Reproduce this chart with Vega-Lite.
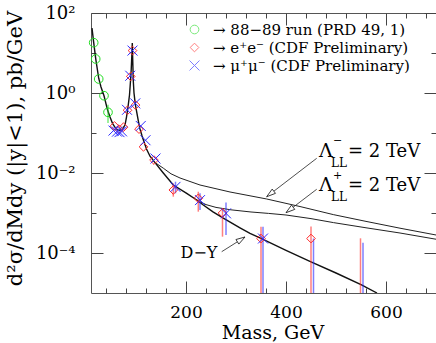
{
  "$schema": "https://vega.github.io/schema/vega-lite/v6.json",
  "width": 345,
  "height": 280,
  "autosize": {"type": "none"},
  "padding": {"left": 91, "top": 13, "right": 0, "bottom": 50},
  "config": {
    "font": "DejaVu Serif",
    "view": {"stroke": "#555", "strokeWidth": 1},
    "axis": {"domain": false, "grid": false, "ticks": true, "tickColor": "#444", "tickWidth": 1, "labelFont": "DejaVu Serif", "titleFont": "DejaVu Serif", "titleFontWeight": "normal", "labelColor": "#000", "titleColor": "#000", "labelFontSize": 17, "titleFontSize": 19},
    "legend": {"labelFont": "DejaVu Serif", "labelFontSize": 15, "labelOffset": 11, "labelLimit": 400, "rowPadding": 2, "symbolSize": 75, "symbolStrokeWidth": 1, "padding": 0}
  },
  "resolve": {"axis": {"x": "independent", "y": "independent"}},
  "datasets": {
    "curves": [
      {"curve": "D-Y", "mass": 12, "value": 41.7},
      {"curve": "D-Y", "mass": 15.4, "value": 18.2},
      {"curve": "D-Y", "mass": 19.4, "value": 7.24},
      {"curve": "D-Y", "mass": 25.4, "value": 2.34},
      {"curve": "D-Y", "mass": 30, "value": 1.41},
      {"curve": "D-Y", "mass": 36, "value": 0.851},
      {"curve": "D-Y", "mass": 43, "value": 0.38},
      {"curve": "D-Y", "mass": 48, "value": 0.251},
      {"curve": "D-Y", "mass": 53, "value": 0.174},
      {"curve": "D-Y", "mass": 58, "value": 0.138},
      {"curve": "D-Y", "mass": 63, "value": 0.12},
      {"curve": "D-Y", "mass": 68, "value": 0.117},
      {"curve": "D-Y", "mass": 73, "value": 0.126},
      {"curve": "D-Y", "mass": 78, "value": 0.158},
      {"curve": "D-Y", "mass": 81, "value": 0.251},
      {"curve": "D-Y", "mass": 84, "value": 0.447},
      {"curve": "D-Y", "mass": 87, "value": 0.891},
      {"curve": "D-Y", "mass": 89, "value": 2.0},
      {"curve": "D-Y", "mass": 90.5, "value": 3.98},
      {"curve": "D-Y", "mass": 91.7, "value": 8.91},
      {"curve": "D-Y", "mass": 92.6, "value": 17.8},
      {"curve": "D-Y", "mass": 93.5, "value": 6.31},
      {"curve": "D-Y", "mass": 94.6, "value": 2.0},
      {"curve": "D-Y", "mass": 96, "value": 1.0},
      {"curve": "D-Y", "mass": 98.5, "value": 0.537},
      {"curve": "D-Y", "mass": 101, "value": 0.355},
      {"curve": "D-Y", "mass": 105, "value": 0.191},
      {"curve": "D-Y", "mass": 108, "value": 0.126},
      {"curve": "D-Y", "mass": 112, "value": 0.0851},
      {"curve": "D-Y", "mass": 116, "value": 0.0603},
      {"curve": "D-Y", "mass": 121, "value": 0.0398},
      {"curve": "D-Y", "mass": 128, "value": 0.0263},
      {"curve": "D-Y", "mass": 138, "value": 0.0182},
      {"curve": "D-Y", "mass": 154.6, "value": 0.01},
      {"curve": "D-Y", "mass": 174.6, "value": 0.00501},
      {"curve": "D-Y", "mass": 201.4, "value": 0.00309},
      {"curve": "D-Y", "mass": 221.4, "value": 0.00211},
      {"curve": "D-Y", "mass": 234.6, "value": 0.00158},
      {"curve": "D-Y", "mass": 254, "value": 0.00107},
      {"curve": "D-Y", "mass": 274.6, "value": 0.000741},
      {"curve": "D-Y", "mass": 308, "value": 0.000427},
      {"curve": "D-Y", "mass": 328, "value": 0.000309},
      {"curve": "D-Y", "mass": 350, "value": 0.000232},
      {"curve": "D-Y", "mass": 400, "value": 0.000117},
      {"curve": "D-Y", "mass": 450, "value": 0.0000603},
      {"curve": "D-Y", "mass": 500, "value": 0.0000316},
      {"curve": "D-Y", "mass": 550, "value": 0.0000162},
      {"curve": "D-Y", "mass": 582, "value": 0.00001},
      {"curve": "LL+", "mass": 221.4, "value": 0.00211},
      {"curve": "LL+", "mass": 240, "value": 0.00162},
      {"curve": "LL+", "mass": 260, "value": 0.00138},
      {"curve": "LL+", "mass": 290, "value": 0.0012},
      {"curve": "LL+", "mass": 330, "value": 0.00106},
      {"curve": "LL+", "mass": 365, "value": 0.000977},
      {"curve": "LL+", "mass": 400, "value": 0.000891},
      {"curve": "LL+", "mass": 450, "value": 0.000724},
      {"curve": "LL+", "mass": 495, "value": 0.000575},
      {"curve": "LL+", "mass": 560, "value": 0.000427},
      {"curve": "LL+", "mass": 628, "value": 0.000316},
      {"curve": "LL+", "mass": 700, "value": 0.000221},
      {"curve": "LL-", "mass": 138, "value": 0.0182},
      {"curve": "LL-", "mass": 154.6, "value": 0.0132},
      {"curve": "LL-", "mass": 170, "value": 0.00955},
      {"curve": "LL-", "mass": 188, "value": 0.0075},
      {"curve": "LL-", "mass": 228, "value": 0.00501},
      {"curve": "LL-", "mass": 288, "value": 0.00335},
      {"curve": "LL-", "mass": 361.4, "value": 0.00224},
      {"curve": "LL-", "mass": 428, "value": 0.00145},
      {"curve": "LL-", "mass": 494.6, "value": 0.000912},
      {"curve": "LL-", "mass": 560, "value": 0.000617},
      {"curve": "LL-", "mass": 628, "value": 0.000417},
      {"curve": "LL-", "mass": 700, "value": 0.000282}
    ],
    "points": [
      {"series": "run", "mass": 15.4, "value": 18.1, "lo": null, "hi": null},
      {"series": "run", "mass": 19.4, "value": 7.08, "lo": null, "hi": null},
      {"series": "run", "mass": 25.4, "value": 2.24, "lo": null, "hi": null},
      {"series": "run", "mass": 36, "value": 0.856, "lo": null, "hi": null},
      {"series": "run", "mass": 44, "value": 0.329, "lo": 0.178, "hi": 0.51},
      {"series": "ee", "mass": 57, "value": 0.15, "lo": null, "hi": null},
      {"series": "ee", "mass": 66, "value": 0.125, "lo": null, "hi": null},
      {"series": "ee", "mass": 75, "value": 0.14, "lo": null, "hi": null},
      {"series": "ee", "mass": 83, "value": 0.37, "lo": null, "hi": null},
      {"series": "ee", "mass": 89.5, "value": 2.6, "lo": null, "hi": null},
      {"series": "ee", "mass": 93, "value": 11.5, "lo": null, "hi": null},
      {"series": "ee", "mass": 99, "value": 0.5, "lo": null, "hi": null},
      {"series": "ee", "mass": 106, "value": 0.125, "lo": null, "hi": null},
      {"series": "ee", "mass": 115, "value": 0.045, "lo": null, "hi": null},
      {"series": "ee", "mass": 136, "value": 0.021, "lo": null, "hi": null},
      {"series": "ee", "mass": 174.6, "value": 0.00376, "lo": 0.00256, "hi": 0.0055},
      {"series": "ee", "mass": 224.6, "value": 0.00233, "lo": 0.00108, "hi": 0.0034},
      {"series": "ee", "mass": 273, "value": 0.001, "lo": 0.000256, "hi": 0.00133},
      {"series": "ee", "mass": 350, "value": 0.00023, "lo": 0.00001, "hi": 0.000455},
      {"series": "ee", "mass": 450, "value": 0.00023, "lo": 0.00001, "hi": 0.00046},
      {"series": "ee", "mass": 549, "value": null, "lo": 0.00001, "hi": 0.000233},
      {"series": "mm", "mass": 55, "value": 0.115, "lo": null, "hi": null},
      {"series": "mm", "mass": 62, "value": 0.108, "lo": null, "hi": null},
      {"series": "mm", "mass": 67, "value": 0.105, "lo": null, "hi": null},
      {"series": "mm", "mass": 72, "value": 0.11, "lo": null, "hi": null},
      {"series": "mm", "mass": 82, "value": 0.38, "lo": null, "hi": null},
      {"series": "mm", "mass": 88.5, "value": 2.7, "lo": null, "hi": null},
      {"series": "mm", "mass": 93, "value": 11.5, "lo": null, "hi": null},
      {"series": "mm", "mass": 98.5, "value": 0.55, "lo": null, "hi": null},
      {"series": "mm", "mass": 109.5, "value": 0.15, "lo": null, "hi": null},
      {"series": "mm", "mass": 119, "value": 0.066, "lo": null, "hi": null},
      {"series": "mm", "mass": 139, "value": 0.023, "lo": null, "hi": null},
      {"series": "mm", "mass": 179, "value": 0.0045, "lo": 0.00311, "hi": 0.00606},
      {"series": "mm", "mass": 228, "value": 0.0021, "lo": 0.00119, "hi": 0.00311},
      {"series": "mm", "mass": 280, "value": 0.00098, "lo": 0.00028, "hi": 0.00182},
      {"series": "mm", "mass": 354, "value": 0.00023, "lo": 0.00001, "hi": 0.000455},
      {"series": "mm", "mass": 455, "value": null, "lo": 0.00001, "hi": 0.00023},
      {"series": "mm", "mass": 554, "value": null, "lo": 0.00001, "hi": 0.00018}
    ]
  },
  "layer": [
    {
      "data": {"name": "curves"},
      "transform": [{"filter": "datum.curve == 'D-Y'"}],
      "mark": {"type": "line", "color": "#111", "strokeWidth": 1.4, "clip": true},
      "encoding": {
        "x": {"field": "mass", "type": "quantitative", "scale": {"domain": [10, 700], "nice": false, "zero": false},
          "axis": {"orient": "bottom", "values": [200, 400, 600], "offset": -12, "tickSize": 12, "labelPadding": 11, "title": "Mass,  GeV", "titleX": 181.5, "titleY": 57, "titleBaseline": "alphabetic", "titleAlign": "center"}},
        "y": {"field": "value", "type": "quantitative", "scale": {"type": "log", "domain": [0.00001, 100], "nice": false},
          "axis": {"orient": "left", "values": [0.0001, 0.01, 1, 100], "offset": -12, "tickSize": 12, "labelPadding": 16, "labelFontSize": 18, "labelBaseline": "middle",
            "labelExpr": "datum.value >= 50 ? '10²' : datum.value >= 0.5 ? '10⁰' : datum.value >= 0.005 ? '10⁻²' : '10⁻⁴'",
            "title": "d²σ/dMdy  (|y|<1),  pb/GeV", "titleFontSize": 21, "titleAngle": 270, "titleX": -82, "titleY": 135, "titleBaseline": "alphabetic", "titleAlign": "center"}}
      }
    },
    {
      "data": {"name": "curves"},
      "transform": [{"filter": "datum.curve != 'D-Y'"}],
      "mark": {"type": "line", "color": "#222", "strokeWidth": 1, "clip": true},
      "encoding": {
        "detail": {"field": "curve"},
        "x": {"field": "mass", "type": "quantitative", "scale": {"domain": [10, 700], "nice": false, "zero": false},
          "axis": {"orient": "bottom", "values": [40, 80, 120, 160, 240, 280, 320, 360, 440, 480, 520, 560, 640, 680], "offset": -5, "tickSize": 5, "labels": false, "title": null}},
        "y": {"field": "value", "type": "quantitative", "scale": {"type": "log", "domain": [0.00001, 100], "nice": false},
          "axis": {"orient": "left", "values": [0.001, 0.1, 10], "offset": -5, "tickSize": 5, "labels": false, "title": null}}
      }
    },
    {
      "data": {"name": "points"},
      "transform": [{"filter": "datum.lo != null"}],
      "mark": {"type": "rule", "strokeWidth": 1.5, "opacity": 0.6, "clip": true},
      "encoding": {
        "x": {"field": "mass", "type": "quantitative", "scale": {"domain": [10, 700], "nice": false, "zero": false},
          "axis": {"orient": "top", "values": [200, 400, 600], "offset": -12, "tickSize": 12, "labels": false, "title": null}},
        "y": {"field": "lo", "type": "quantitative", "scale": {"type": "log", "domain": [0.00001, 100], "nice": false},
          "axis": {"orient": "right", "values": [0.0001, 0.01, 1, 100], "offset": -12, "tickSize": 12, "labels": false, "title": null}},
        "y2": {"field": "hi"},
        "color": {"field": "series", "type": "nominal", "scale": {"domain": ["run", "ee", "mm"], "range": ["#22dd22", "#ff2a2a", "#2a2aff"]}}
      }
    },
    {
      "data": {"name": "points"},
      "transform": [{"filter": "datum.value != null"}],
      "mark": {"type": "point", "filled": false, "size": 75, "strokeWidth": 1, "opacity": 1},
      "encoding": {
        "x": {"field": "mass", "type": "quantitative", "scale": {"domain": [10, 700], "nice": false, "zero": false},
          "axis": {"orient": "top", "values": [40, 80, 120, 160, 240, 280, 320, 360, 440, 480, 520, 560, 640, 680], "offset": -5, "tickSize": 5, "labels": false, "title": null}},
        "y": {"field": "value", "type": "quantitative", "scale": {"type": "log", "domain": [0.00001, 100], "nice": false},
          "axis": {"orient": "right", "values": [0.001, 0.1, 10], "offset": -5, "tickSize": 5, "labels": false, "title": null}},
        "color": {"field": "series", "type": "nominal", "scale": {"domain": ["run", "ee", "mm"], "range": ["#22dd22", "#ff2a2a", "#2a2aff"]},
          "legend": {"orient": "none", "legendX": 96, "legendY": 9, "title": null, "padding": 0, "direction": "vertical", "labelFont": "DejaVu Serif", "labelFontSize": 15, "labelOffset": 11, "labelLimit": 400, "rowPadding": 2, "symbolStrokeWidth": 1, "symbolSize": 75,
            "labelExpr": "datum.value == 'run' ? '→  88−89 run  (PRD 49, 1)' : datum.value == 'ee' ? '→  e⁺e⁻  (CDF Preliminary)' : '→  μ⁺μ⁻  (CDF Preliminary)'",
            "encode": {"labels": {"update": {"fill": {"scale": "color", "field": "value"}, "fontSize": {"value": 15}, "font": {"value": "DejaVu Serif"}}}}}},
        "shape": {"field": "series", "type": "nominal", "scale": {"domain": ["run", "ee", "mm"], "range": ["circle", "diamond", "M-1.15,-1.15L1.15,1.15M-1.15,1.15L1.15,-1.15"]},
          "legend": {"orient": "none", "legendX": 96, "legendY": 9, "title": null, "padding": 0, "direction": "vertical", "labelFont": "DejaVu Serif", "labelFontSize": 15, "labelOffset": 11, "labelLimit": 400, "rowPadding": 2, "symbolStrokeWidth": 1, "symbolSize": 75,
            "labelExpr": "datum.value == 'run' ? '→  88−89 run  (PRD 49, 1)' : datum.value == 'ee' ? '→  e⁺e⁻  (CDF Preliminary)' : '→  μ⁺μ⁻  (CDF Preliminary)'",
            "encode": {"labels": {"update": {"fill": {"scale": "color", "field": "value"}, "fontSize": {"value": 15}, "font": {"value": "DejaVu Serif"}}}}}}
      }
    },
    {
      "data": {"values": [{}]},
      "mark": {"type": "rule", "color": "#222", "strokeWidth": 0.8},
      "encoding": {"x": {"datum": 461.4, "type": "quantitative", "axis": null}, "y": {"datum": 0.0233, "type": "quantitative", "axis": null}, "x2": {"datum": 361.4}, "y2": {"datum": 0.002556}}
    },
    {
      "data": {"values": [{}]},
      "mark": {"type": "rule", "color": "#222", "strokeWidth": 0.8},
      "encoding": {"x": {"datum": 461.4, "type": "quantitative", "axis": null}, "y": {"datum": 0.003914, "type": "quantitative", "axis": null}, "x2": {"datum": 400}, "y2": {"datum": 0.001018}}
    },
    {
      "data": {"values": [{}]},
      "mark": {"type": "rule", "color": "#222", "strokeWidth": 0.8},
      "encoding": {"x": {"datum": 271.4, "type": "quantitative", "axis": null}, "y": {"datum": 0.0001078, "type": "quantitative", "axis": null}, "x2": {"datum": 318}, "y2": {"datum": 0.000251}}
    },
    {
      "data": {"values": [{}]},
      "mark": {"type": "point", "shape": "M0,0L-1,-0.3L-1,0.3Z", "size": 324, "angle": 142.5, "filled": true, "fill": "white", "stroke": "#222", "strokeWidth": 0.8, "opacity": 1},
      "encoding": {"x": {"datum": 361.4, "type": "quantitative", "axis": null}, "y": {"datum": 0.002556, "type": "quantitative", "axis": null}}
    },
    {
      "data": {"values": [{}]},
      "mark": {"type": "point", "shape": "M0,0L-1,-0.3L-1,0.3Z", "size": 324, "angle": 142.7, "filled": true, "fill": "white", "stroke": "#222", "strokeWidth": 0.8, "opacity": 1},
      "encoding": {"x": {"datum": 400, "type": "quantitative", "axis": null}, "y": {"datum": 0.001018, "type": "quantitative", "axis": null}}
    },
    {
      "data": {"values": [{}]},
      "mark": {"type": "point", "shape": "M0,0L-1,-0.3L-1,0.3Z", "size": 324, "angle": 327.8, "filled": true, "fill": "white", "stroke": "#222", "strokeWidth": 0.8, "opacity": 1},
      "encoding": {"x": {"datum": 318, "type": "quantitative", "axis": null}, "y": {"datum": 0.000251, "type": "quantitative", "axis": null}}
    },
    {
      "data": {"values": [{}]},
      "mark": {"type": "text", "text": "D−Y", "fontSize": 16, "align": "center", "baseline": "middle", "color": "#000"},
      "encoding": {"x": {"datum": 226, "type": "quantitative", "axis": null}, "y": {"datum": 0.0001029, "type": "quantitative", "axis": null}}
    },
    {
      "data": {"values": [{}]},
      "mark": {"type": "text", "text": "Λ", "fontSize": 19, "align": "left", "baseline": "alphabetic", "color": "#000"},
      "encoding": {"x": {"datum": 466, "type": "quantitative", "axis": null}, "y": {"datum": 0.02556, "type": "quantitative", "axis": null}}
    },
    {
      "data": {"values": [{}]},
      "mark": {"type": "text", "text": "−", "fontSize": 11, "align": "left", "baseline": "middle", "dx": 14, "dy": -15.5, "color": "#000"},
      "encoding": {"x": {"datum": 466, "type": "quantitative", "axis": null}, "y": {"datum": 0.02556, "type": "quantitative", "axis": null}}
    },
    {
      "data": {"values": [{}]},
      "mark": {"type": "text", "text": "LL", "fontSize": 12, "align": "left", "baseline": "middle", "dx": 12, "dy": 6.5, "color": "#000"},
      "encoding": {"x": {"datum": 466, "type": "quantitative", "axis": null}, "y": {"datum": 0.02556, "type": "quantitative", "axis": null}}
    },
    {
      "data": {"values": [{}]},
      "mark": {"type": "text", "text": "=  2  TeV", "fontSize": 18, "align": "left", "baseline": "alphabetic", "dx": 29, "color": "#000"},
      "encoding": {"x": {"datum": 466, "type": "quantitative", "axis": null}, "y": {"datum": 0.02556, "type": "quantitative", "axis": null}}
    },
    {
      "data": {"values": [{}]},
      "mark": {"type": "text", "text": "Λ", "fontSize": 19, "align": "left", "baseline": "alphabetic", "color": "#000"},
      "encoding": {"x": {"datum": 466, "type": "quantitative", "axis": null}, "y": {"datum": 0.003611, "type": "quantitative", "axis": null}}
    },
    {
      "data": {"values": [{}]},
      "mark": {"type": "text", "text": "+", "fontSize": 11, "align": "left", "baseline": "middle", "dx": 14, "dy": -15, "color": "#000"},
      "encoding": {"x": {"datum": 466, "type": "quantitative", "axis": null}, "y": {"datum": 0.003611, "type": "quantitative", "axis": null}}
    },
    {
      "data": {"values": [{}]},
      "mark": {"type": "text", "text": "LL", "fontSize": 12, "align": "left", "baseline": "middle", "dx": 12, "dy": 6.5, "color": "#000"},
      "encoding": {"x": {"datum": 466, "type": "quantitative", "axis": null}, "y": {"datum": 0.003611, "type": "quantitative", "axis": null}}
    },
    {
      "data": {"values": [{}]},
      "mark": {"type": "text", "text": "=  2  TeV", "fontSize": 18, "align": "left", "baseline": "alphabetic", "dx": 29, "color": "#000"},
      "encoding": {"x": {"datum": 466, "type": "quantitative", "axis": null}, "y": {"datum": 0.003611, "type": "quantitative", "axis": null}}
    }
  ]
}
